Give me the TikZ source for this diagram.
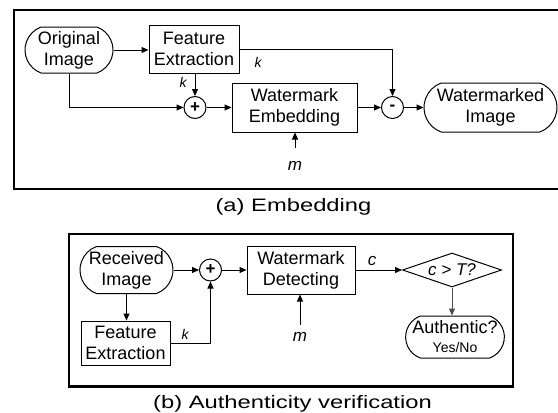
\documentclass[tikz,border=0pt]{standalone}
\usepackage{graphicx}
\usepackage{fontspec}
\setmainfont{Liberation Sans}
\usetikzlibrary{shapes.misc,shapes.geometric,arrows.meta}

\begin{document}
\begin{tikzpicture}[x=1pt,y=-1pt,
  every node/.style={font=\fontsize{18}{21}\selectfont, align=center},
  blk/.style={draw, line width=1pt, inner sep=0pt},
  term/.style={draw, rounded rectangle, rounded rectangle arc length=140,
               inner sep=0pt, line width=1pt},
  sumnode/.style={draw, circle, minimum size=22pt, inner sep=0pt,
                  line width=1pt, font=\fontsize{17}{17}\selectfont\bfseries},
  decide/.style={draw, diamond, inner sep=0pt, line width=1pt,
                 minimum width=99pt, minimum height=34pt, shape aspect=2.9},
  link/.style={line width=1pt},
  arr/.style={link, -{Triangle[length=7pt,width=6pt]}},
  frame/.style={line width=2.5pt},
  klbl/.style={font=\fontsize{14}{16}\selectfont\itshape},
  vlbl/.style={font=\fontsize{17}{19}\selectfont\itshape},
  caption/.style={font=\fontsize{18}{21}\selectfont, anchor=base}
]
\useasboundingbox (0,0) rectangle (558,413);

% ---------- (a) Embedding ----------
\draw[frame] (560,10) -- (14,10) -- (14,189) -- (560,189);

\node[term, minimum width=88pt, minimum height=46pt] (orig) at (69,50) {Original\\Image};
\node[blk, minimum width=90pt, minimum height=48pt] (fe) at (194,49) {Feature\\Extraction};
\node[sumnode] (add) at (195,107.5) {+};
\node[blk, minimum width=125pt, minimum height=49pt] (emb) at (294.5,107.5) {Watermark\\Embedding};
\node[sumnode] (sub) at (392.5,107.5) {-};
\node[term, minimum width=133pt, minimum height=49pt] (wmi) at (490.5,107.5) {Watermarked\\Image};
\node[klbl] (ka) at (183,82) {k};
\node[klbl] (kb) at (258,62) {k};
\node[vlbl] (ma) at (295,166) {m};
\coordinate (matop) at (295,148);

\draw[arr] (orig.east) -- (orig.east -| fe.west);
\draw[arr] (orig.south) |- (add.west);
\draw[arr] (fe.south -| add) -- (add.north);
\draw[arr] (add.east) -- (emb.west);
\draw[arr] (emb.east) -- (sub.west);
\draw[arr] (fe.east) -| (sub.north);
\draw[arr] (sub.east) -- (wmi.west);
\draw[arr] (matop) -- (matop |- emb.south);

\node[caption] (capa) at (293.5,211) {\scalebox{1.32}[1]{(a) Embedding}};

% ---------- (b) Authenticity verification ----------
\draw[frame] (69,234) rectangle (513,386.5);

\node[term, minimum width=93pt, minimum height=47pt] (recv) at (126.5,270) {Received\\Image};
\node[blk, minimum width=89pt, minimum height=44pt] (fe2) at (125.5,343) {Feature\\Extraction};
\node[sumnode] (add2) at (210.5,270) {+};
\node[blk, minimum width=108pt, minimum height=48pt] (det) at (301,270) {Watermark\\Detecting};
\node[decide] (cmp) at (452,270) {\fontsize{17}{19}\selectfont\itshape c > T?};
\node[term, minimum width=96pt, minimum height=42pt] (auth) at (455,337)
  {Authentic?\\[-2pt]{\fontsize{14}{16}\selectfont Yes/No}};
\node[klbl] (kc) at (185,334) {k};
\node[vlbl] (cl) at (372,261) {c};
\node[vlbl] (mb) at (300,337) {m};
\coordinate (mbtop) at (300,325);

\draw[arr] (recv.east) -- (add2.west);
\draw[arr] (recv.south) -- (recv.south |- fe2.north);
\draw[arr] (fe2.east) -| (add2.south);
\draw[arr] (add2.east) -- (det.west);
\draw[arr] (det.east) -- (cmp.west);
\draw[arr] (mbtop) -- (mbtop |- det.south);
\draw[arr, draw=black!70, fill=black!70] (cmp.south) -- (cmp.south |- auth.north);

\node[caption] (capb) at (292.5,408.5) {\scalebox{1.32}[1]{(b) Authenticity verification}};
\end{tikzpicture}
\end{document}
